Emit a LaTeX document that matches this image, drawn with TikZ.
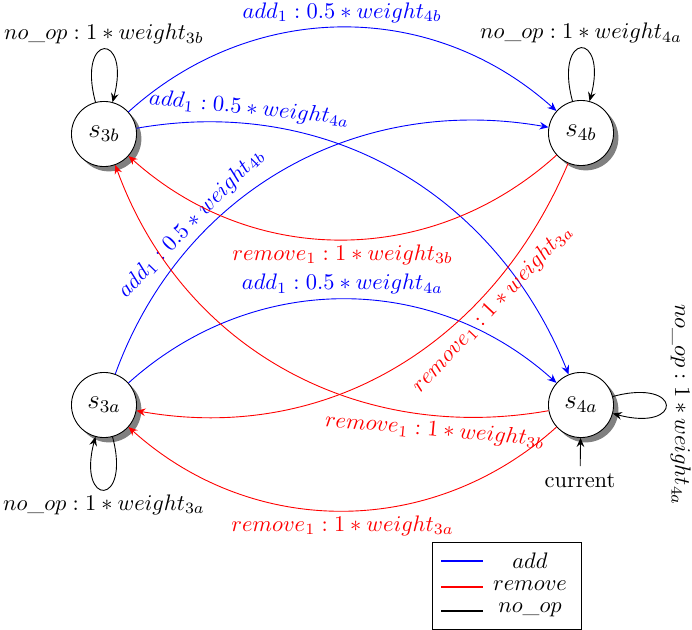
\documentclass[tikz,border=0pt]{standalone}
\usetikzlibrary{arrows.meta,shadows}
\begin{document}
\begin{tikzpicture}[x=0.4455pt,y=-0.4455pt,
  >={Stealth[length=4pt,width=3.4pt,inset=1.4pt]},
  state/.style={circle,draw,fill=white,minimum size=29pt,inner sep=0pt,font=\large,
    drop shadow={opacity=1,fill=black!50}},
  addc/.style={blue,->},
  remc/.style={red,->},
  noopc/.style={black,->},
  every loop/.style={min distance=32.5pt},
  lab/.style={inner sep=2pt}]
\useasboundingbox (0,0) rectangle (692,630);
\node[state] (s3b) at (104,134) {$s_{3b}$};
\node[state] (s4b) at (581,133) {$s_{4b}$};
\node[state] (s3a) at (104,405) {$s_{3a}$};
\node[state] (s4a) at (581,405) {$s_{4a}$};
\node (cur) at (580,481) {current};

% loops
\draw[noopc] (s3b) edge[loop above] node[above,lab] {$no\_op : 1 * weight_{3b}$} (s3b);
\draw[noopc] (s4b) edge[loop above] node[above,lab] {$no\_op : 1 * weight_{4a}$} (s4b);
\draw[noopc] (s3a) edge[loop below] node[below,lab] {$no\_op : 1 * weight_{3a}$} (s3a);
\draw[noopc] (s4a) edge[loop right] node[above,sloped,lab] {$no\_op : 1 * weight_{4a}$} (s4a);

% add edges
\draw[addc] (s3b) to[bend left=42] node[above,lab] {$add_1 : 0.5 * weight_{4b}$} (s4b);
\draw[addc] (s3b) to[out=10,in=112] node[above,sloped,pos=0.2,lab] {$add_1 : 0.5 * weight_{4a}$} (s4a);
\draw[addc] (s3a) to[out=70,in=170] node[above,sloped,pos=0.3,lab] {$add_1 : 0.5 * weight_{4b}$} (s4b);
\draw[addc] (s3a) to[bend left=42] node[above,lab] {$add_1 : 0.5 * weight_{4a}$} (s4a);

% remove edges
\draw[remc] (s4b) to[bend left=42] node[below,lab] {$remove_1 : 1 * weight_{3b}$} (s3b);
\draw[remc] (s4a) to[out=190,in=290] node[below,sloped,pos=0.2,lab] {$remove_1 : 1 * weight_{3b}$} (s3b);
\draw[remc] (s4b) to[out=247,in=-10] node[below,sloped,pos=0.29,lab] {$remove_1 : 1 * weight_{3a}$} (s3a);
\draw[remc] (s4a) to[bend left=42] node[below,lab] {$remove_1 : 1 * weight_{3a}$} (s3a);

% current
\draw[->] (cur) -- (s4a);

% legend
\draw (432,542) rectangle (581,629);
\draw[blue,line width=0.6pt] (441,561) -- (483,561);
\draw[red,line width=0.6pt] (441,587) -- (483,587);
\draw[black,line width=0.6pt] (441,611) -- (483,611);
\node (ladd) at (530,561) {$add$};
\node (lrem) at (530,586) {$remove$};
\node (lnoop) at (530,610) {$no\_op$};
\end{tikzpicture}
\end{document}
